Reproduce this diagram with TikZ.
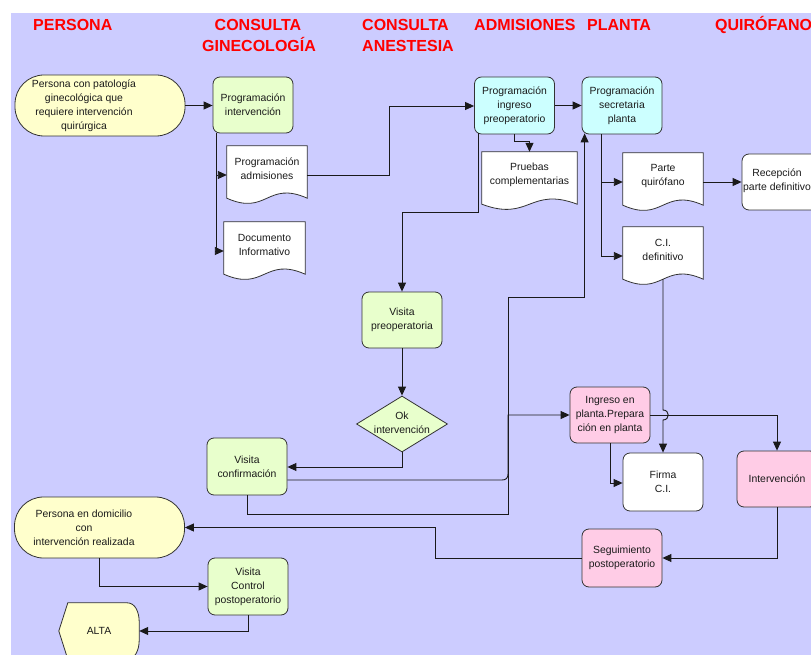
\documentclass[tikz,border=0pt]{standalone}
\usepackage{fontspec}
\setmainfont{Liberation Sans}
\usetikzlibrary{arrows.meta,calc,shapes.geometric}

\definecolor{bg}{HTML}{CCCCFF}
\definecolor{yel}{HTML}{FFFFCC}
\definecolor{grn}{HTML}{E8FFCC}
\definecolor{cyn}{HTML}{CCFFFF}
\definecolor{pnk}{HTML}{FFCCE6}
\definecolor{edge}{HTML}{333333}
\definecolor{ink}{HTML}{1A1A1A}
\definecolor{hred}{HTML}{FF0000}

\pgfdeclarelayer{back}
\pgfdeclarelayer{docs}
\pgfsetlayers{back,docs,main}

\tikzset{
  hdr/.style={font=\fontsize{16}{21}\selectfont\bfseries, text=hred, inner sep=0},
  boxtext/.style={font=\fontsize{10.4}{14}\selectfont, text=ink, align=center},
  box/.style={boxtext, draw=edge, line width=0.8pt, inner sep=0,
    minimum width=80pt, minimum height=57pt, rounded corners=7pt},
  proc/.style={box, fill=grn},
  admin/.style={box, fill=cyn},
  ward/.style={box, fill=pnk},
  plain/.style={box, fill=white},
  term/.style={box, fill=yel, minimum width=170pt, minimum height=61pt, rounded corners=29pt},
  docnode/.style={boxtext, inner sep=0, minimum width=80pt, minimum height=46pt},
  doc/.style={draw=edge, line width=0.8pt, fill=white},
  link/.style={draw=ink, line width=0.9pt},
  flow/.style={link, -{Triangle[length=9pt,width=8pt]}},
}

% outline of a document symbol (wavy lower edge) around a node
\newcommand\docoutline[1]{%
  \filldraw[doc] (#1.north west) -- (#1.north east) -- ($(#1.south east)+(0,6)$)
    .. controls ($(#1.south)+(0,-12)$) and ($(#1.south)+(0,24)$) .. ($(#1.south west)+(0,6)$)
    -- cycle;}

\begin{document}
\begin{tikzpicture}[x=1pt,y=-1pt]
\useasboundingbox (0,0) rectangle (811,655);

\begin{pgfonlayer}{back}
  \fill[white] (0,0) rectangle (811,655);
  \fill[bg] (11,13) rectangle (811,655);
\end{pgfonlayer}

% column headings
\node[hdr, anchor=base west] (h1) at (33,31) {PERSONA};
\node[hdr, anchor=base] (h2a) at (258,31) {CONSULTA};
\node[hdr, anchor=base] (h2b) at (259,52) {GINECOLOGÍA};
\node[hdr, anchor=base west] (h3a) at (362,31) {CONSULTA};
\node[hdr, anchor=base west] (h3b) at (362,52) {ANESTESIA};
\node[hdr, anchor=base west] (h4) at (474,31) {ADMISIONES};
\node[hdr, anchor=base west] (h5) at (587,31) {PLANTA};
\node[hdr, anchor=base west] (h6) at (715,31) {QUIRÓFANO};

% steps
\node[term, label={[boxtext, xshift=-16pt]center:Persona con patología\\ginecológica que\\requiere intervención\\quirúrgica}] (p1) at (100,105.5) {};
\node[proc, minimum height=56pt] (pint) at (253,105) {Programación\\intervención};
\node[docnode] (padm) at (267,169) {Programación\\admisiones};
\node[docnode, minimum width=81pt] (pdoc) at (264.5,245) {Documento\\Informativo};
\node[admin] (ping) at (514.5,105.5) {Programación\\ingreso\\preoperatorio};
\node[docnode, minimum width=95pt] (pprue) at (529.5,175) {Pruebas\\complementarias};
\node[admin] (psec) at (622,105.5) {Programación\\secretaria\\planta};
\node[docnode] (pparte) at (663,176) {Parte\\quirófano};
\node[docnode] (pci) at (663,250) {C.I.\\definitivo};
\node[plain, minimum height=56pt, label={[boxtext, xshift=-5pt, yshift=1pt]center:Recepción\\parte definitivo}] (recep) at (782,182) {};
\node[proc, minimum height=56pt] (vpre) at (402,320) {Visita\\preoperatoria};
\node[diamond, draw=edge, line width=0.8pt, fill=grn, minimum width=91pt, minimum height=56pt, inner sep=0,
  label={[boxtext, yshift=1.5pt]center:Ok\\intervención}] (ok) at (402,424) {};
\node[proc] (vconf) at (247,466.5) {Visita\\confirmación};
\node[ward, minimum height=56pt] (ingr) at (610,415) {Ingreso en\\planta.Prepara\\ción en planta};
\node[plain, minimum height=58pt] (firma) at (663,482) {Firma\\C.I.};
\node[ward, minimum height=56pt] (interv) at (777,479) {Intervención};
\node[ward, minimum height=58pt] (seg) at (622,558) {Seguimiento\\postoperatorio};
\node[term, label={[boxtext, xshift=-15.5pt]center:Persona en domicilio\\con\\intervención realizada}] (p2) at (99.5,527.5) {};
\node[proc] (vctrl) at (248,586.5) {Visita\\Control\\postoperatorio};
\node[boxtext, inner sep=0, minimum width=80pt, minimum height=56pt] (alta) at (99,631) {ALTA};

% document symbols and the end symbol, drawn beneath their texts
\begin{pgfonlayer}{docs}
  \docoutline{padm}
  \docoutline{pdoc}
  \docoutline{pprue}
  \docoutline{pparte}
  \docoutline{pci}
  \filldraw[draw=edge, line width=0.8pt, fill=yel]
    (alta.west) -- ($(alta.north west)+(9,0)$) -- ($(alta.north east)+(-12,0)$)
    .. controls ($(alta.north east)+(-4,0)$) and ($(alta.east)+(0,-19)$) .. ($(alta.east)+(0,-9)$)
    -- ($(alta.east)+(0,9)$)
    .. controls ($(alta.east)+(0,19)$) and ($(alta.south east)+(-4,0)$) .. ($(alta.south east)+(-12,0)$)
    -- ($(alta.south west)+(9,0)$) -- cycle;
\end{pgfonlayer}

% bend points
\coordinate (k1) at ($(pint.south west)+(4,0)$);
\coordinate (k2) at (389,106);
\coordinate (k3) at ($(ping.south west)+(4,-1)$);
\coordinate (k4) at (402,212);
\coordinate (k5) at ($(psec.south west)+(20,0)$);
\coordinate (k7) at ($(psec.south west)+(3,-1)$);
\coordinate (m1) at (508,480);
\coordinate (m2) at (508,514);
\coordinate (m3) at (508,297);
\coordinate (m4) at (435,527.5);
\coordinate (hop) at (pci.south |- ingr.east);

% connectors
\draw[flow] (p1.east) -- (p1.east -| pint.west);
\draw[flow] (k1) |- ($(padm.west)+(0,6)$);
\draw[flow] (k1) |- ($(pdoc.west)+(0,6)$);
\draw[flow] ($(padm.east)+(0,6)$) -| (k2) -- (k2 -| ping.west);
\draw[flow] (ping.south) -- ++(0,7) -| (pprue.north);
\draw[flow] (k3) |- (k4) -- (vpre.north);
\draw[flow] (ping.east) -- (psec.west);
\draw[flow] (k5) |- ($(pparte.west)+(0,6)$);
\draw[flow] (k5) |- ($(pci.west)+(0,6)$);
\draw[flow] ($(pparte.east)+(0,6)$) -- (recep.west);
\draw[flow] (vpre.south) -- (ok.north);
\draw[flow] (ok.south) |- ($(vconf.east)+(0,0.5)$);
\draw[flow] ($(vconf.east)+(0,13.5)$) -- ($(m1)+(-6,0)$)
  .. controls ($(m1)+(-2,0)$) and ($(m1)+(0,-2)$) .. ($(m1)+(0,-6)$)
  -- (m1 |- ingr.west) -- (ingr.west);
\draw[flow] (vconf.south) |- (m2) -- (m3) -| (k7);
\draw[flow] (ingr.south) |- ($(firma.west)+(0,1)$);
\draw[flow] ($(pci.south)+(0,6)$) -- ($(hop)+(0,-5)$)
  .. controls ($(hop)+(7,-5)$) and ($(hop)+(7,5)$) .. ($(hop)+(0,5)$) -- (firma.north);
\draw[flow] (ingr.east) -| (interv.north);
\draw[flow] (interv.south) |- (seg.east);
\draw[flow] (seg.west) -| (m4) -- (p2.east);
\draw[flow] (p2.south) |- (vctrl.west);
\draw[flow] (vctrl.south) |- (alta.east);
\end{tikzpicture}
\end{document}
